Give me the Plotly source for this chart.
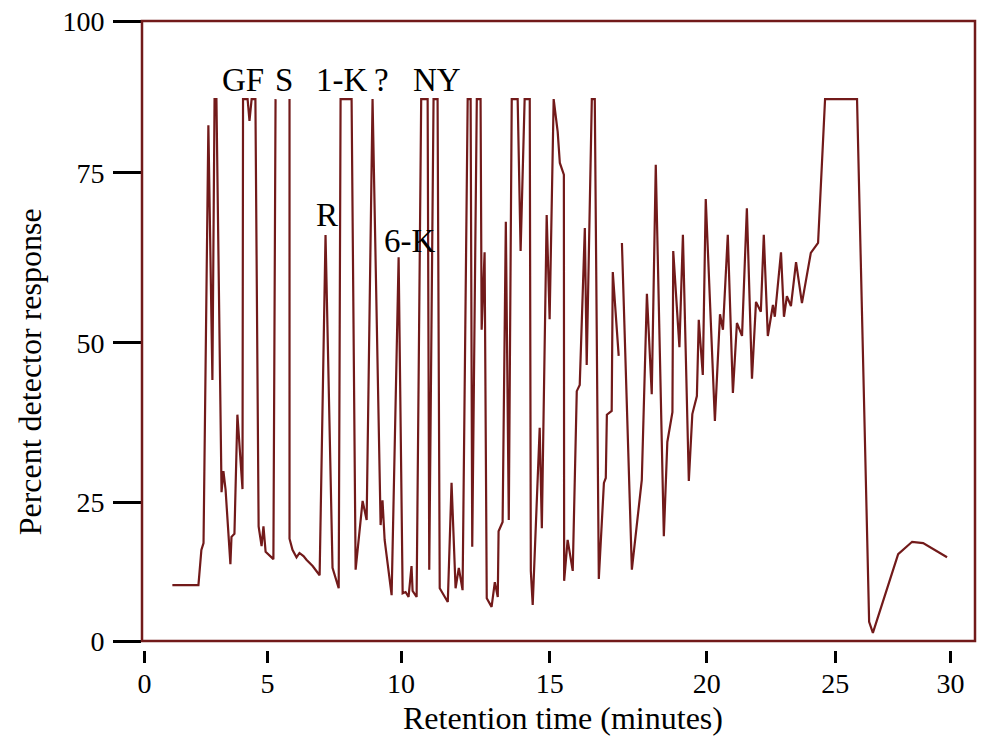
import plotly.graph_objects as go

# Retention time (minutes) and percent detector response
time_min = [
    1.04, 2.01, 2.12, 2.20, 2.38, 2.53, 2.61, 2.68, 2.87, 2.94,
    3.02, 3.20, 3.24, 3.35, 3.46, 3.65, 3.67, 3.84, 3.91, 3.99,
    4.13, 4.25, 4.36, 4.43, 4.51, 4.80, 4.88, None, 5.40, 5.40,
    5.51, 5.66, 5.77, 5.92, 6.03, 6.26, 6.52, 6.74, 7.00, 7.23,
    7.30, 7.71, 7.86, 8.12, 8.27, 8.49, 8.79, 8.86, 8.94, 9.20,
    9.46, 9.61, 9.72, 9.83, 9.94, 9.98, 10.13, 10.30, 10.54, 10.60,
    10.76, 10.91, 10.99, 11.29, 11.43, 11.58, 11.70, 11.84, 12.03, 12.14,
    12.20, 12.37, 12.51, 12.55, 12.66, 12.74, 12.92, 13.04, 13.15, 13.18,
    13.33, 13.45, 13.56, 13.67, 13.89, 14.00, 14.15, 14.34, 14.38, 14.45,
    14.71, 14.79, 14.97, 15.08, 15.23, 15.38, 15.46, 15.61, 15.62, 15.75,
    15.94, 16.09, 16.20, 16.39, 16.46, 16.65, 16.76, 16.91, 17.10, 17.17,
    17.21, 17.39, 17.43, 17.65, None, 17.77, 18.14, 18.51, 18.70, 18.88,
    19.03, 19.33, 19.46, 19.65, 19.68, 19.91, 20.04, 20.26, 20.39, 20.56,
    20.63, 20.78, 20.89, 21.23, 21.42, 21.53, 21.71, 21.90, 22.05, 22.24,
    22.42, 22.61, 22.76, 22.94, 23.05, 23.20, 23.39, 23.46, 23.69, 23.80,
    23.91, 24.06, 24.25, 24.47, 24.80, 25.07, 25.33, 26.52, 26.97, 27.11,
    28.05, 28.57, 28.98, 29.87,
]
response = [
    9.0, 9.0, 14.7, 15.8, 83.2, 42.1, 87.4, 87.4, 24.0, 27.4,
    24.4, 12.4, 16.8, 17.3, 36.5, 24.5, 87.4, 87.4, 83.9, 87.4,
    87.4, 18.5, 15.3, 18.5, 14.4, 13.2, 87.4, None, 87.4, 16.5,
    14.7, 13.5, 14.2, 13.7, 13.1, 12.1, 10.6, 65.5, 11.8, 8.5,
    87.4, 87.4, 11.5, 22.6, 19.5, 87.4, 18.7, 22.7, 16.3, 7.4,
    61.9, 7.7, 7.9, 7.1, 12.1, 8.1, 7.1, 87.4, 87.4, 11.5,
    87.4, 87.4, 8.5, 6.3, 25.5, 8.5, 11.8, 8.2, 87.4, 87.4,
    15.2, 87.4, 87.4, 50.2, 62.7, 6.9, 5.5, 9.5, 7.1, 17.7,
    19.2, 67.6, 19.5, 87.4, 87.4, 62.9, 87.4, 87.4, 11.3, 5.8,
    34.4, 18.2, 68.7, 51.9, 87.4, 82.1, 77.1, 75.2, 9.7, 16.3,
    11.3, 40.3, 41.3, 66.6, 44.5, 87.4, 87.4, 10.0, 25.5, 26.3,
    36.5, 37.1, 59.5, 46.0, None, 64.2, 11.5, 26.0, 56.0, 39.8,
    76.8, 16.9, 32.1, 36.9, 62.9, 47.4, 65.5, 25.8, 36.6, 39.5,
    51.8, 42.9, 71.3, 35.5, 52.7, 50.2, 65.5, 40.0, 51.3, 49.2,
    69.8, 42.3, 54.7, 53.1, 65.5, 49.2, 54.2, 52.3, 62.7, 52.3,
    55.6, 54.0, 61.1, 54.5, 62.6, 64.2, 87.4, 87.4, 3.1, 1.3,
    14.0, 16.0, 15.8, 13.5,
]

# Peak labels
peak_labels = ["GF", "S", "1-K", "?", "NY", "R", "6-K"]
peak_label_x = [3.65, 5.21, 7.34, 8.83, 10.88, 6.78, 9.87]
peak_label_y = [90.5, 90.5, 90.5, 90.5, 90.5, 68.7, 64.5]

# Axis ticks as printed on the original figure
x_tick_text = ["0", "5", "10", "15", "20", "25", "30"]
x_tick_vals = [0, 4.58, 9.55, 15.08, 20.93, 25.71, 30]
y_tick_text = ["0", "25", "50", "75", "100"]
y_tick_vals = [0, 22.4, 48.1, 75.5, 100]

LINE = "#721a1a"
FONT = "Liberation Serif, Times New Roman, serif"

fig = go.Figure()
fig.add_trace(go.Scatter(
    x=time_min, y=response, mode="lines",
    line=dict(color=LINE, width=2.2), connectgaps=False,
    hoverinfo="skip", showlegend=False,
))

for t, x, y in zip(peak_labels, peak_label_x, peak_label_y):
    fig.add_annotation(x=x, y=y, xref="x", yref="y", text=t, showarrow=False,
                       xanchor="center", yanchor="middle",
                       font=dict(family=FONT, size=33, color="black"))

fig.add_annotation(x=0.505, y=-0.108, xref="paper", yref="paper",
                   text="Retention time (minutes)", showarrow=False,
                   xanchor="center", yanchor="middle",
                   font=dict(family=FONT, size=32, color="black"))
fig.add_annotation(x=-0.134, y=0.442, xref="paper", yref="paper",
                   text="Percent detector response", showarrow=False, textangle=-90,
                   xanchor="center", yanchor="middle",
                   font=dict(family=FONT, size=32, color="black"))

# frame around the plotting area
fig.add_shape(type="rect", xref="x domain", yref="y domain", x0=0, x1=1, y0=0, y1=1,
              line=dict(color=LINE, width=2.5))

fig.update_layout(
    width=983, height=740,
    margin=dict(l=142, r=8, t=21, b=90, autoexpand=False),
    paper_bgcolor="white", plot_bgcolor="white",
    font=dict(family=FONT, size=28, color="black"),
    xaxis=dict(range=[-0.09, 30.91], anchor="free", position=0, automargin=False,
               tickvals=x_tick_vals, ticktext=x_tick_text,
               ticks="outside", ticklen=12, tickwidth=2.5, tickcolor="black",
               ticklabelstandoff=-4, ticklabeloverflow="allow",
               showline=False, showgrid=False, zeroline=False,
               tickfont=dict(family=FONT, size=28, color="black")),
    yaxis=dict(range=[0, 100], domain=[0.0143, 1], automargin=False,
               tickvals=y_tick_vals, ticktext=y_tick_text,
               ticks="outside", ticklen=28, tickwidth=3, tickcolor="black",
               ticklabelstandoff=3, ticklabeloverflow="allow",
               showline=False, showgrid=False, zeroline=False,
               tickfont=dict(family=FONT, size=28, color="black")),
)

fig.write_html("out.html", config={"displayModeBar": False},
               post_script="document.body.style.margin='0';")
